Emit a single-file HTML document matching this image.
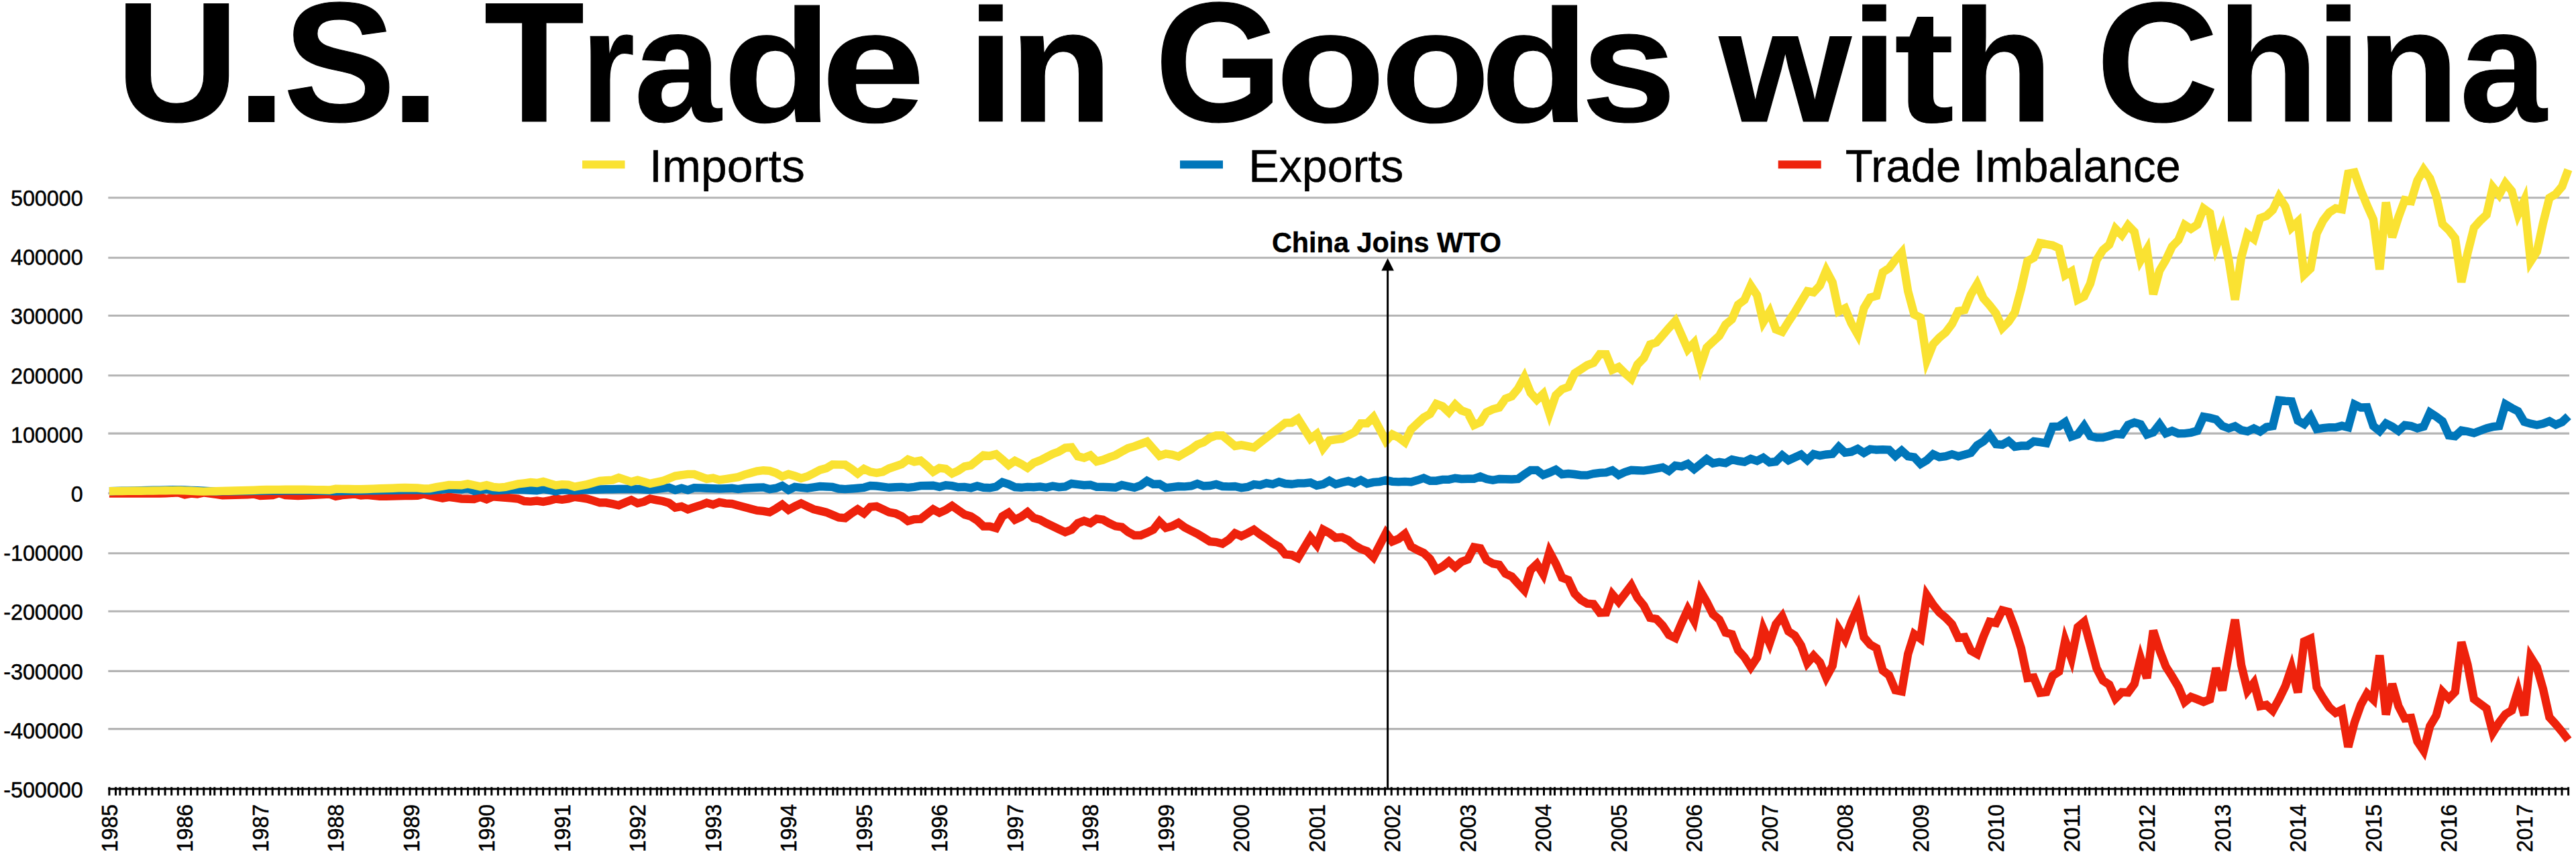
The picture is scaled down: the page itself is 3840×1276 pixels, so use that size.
<!DOCTYPE html>
<html lang="en"><head><meta charset="utf-8"><title>U.S. Trade in Goods with China</title>
<style>html,body{margin:0;padding:0;background:#fff}body{width:3840px;height:1276px;overflow:hidden}svg{display:block}</style>
</head><body>
<svg width="3840" height="1276" viewBox="0 0 3840 1276">
<g stroke="#b4b4b4" stroke-width="3.1">
<line x1="161.3" y1="294.7" x2="3830" y2="294.7"/>
<line x1="161.3" y1="384.2" x2="3830" y2="384.2"/>
<line x1="161.3" y1="470.5" x2="3830" y2="470.5"/>
<line x1="161.3" y1="559.7" x2="3830" y2="559.7"/>
<line x1="161.3" y1="646.1" x2="3830" y2="646.1"/>
<line x1="161.3" y1="735.4" x2="3830" y2="735.4"/>
<line x1="161.3" y1="824.7" x2="3830" y2="824.7"/>
<line x1="161.3" y1="911.2" x2="3830" y2="911.2"/>
<line x1="161.3" y1="1000.4" x2="3830" y2="1000.4"/>
<line x1="161.3" y1="1086.6" x2="3830" y2="1086.6"/>
</g>
<g fill="none" stroke-width="12.4" stroke-linejoin="miter" stroke-miterlimit="4.0" stroke-linecap="butt">
<polyline stroke="#ee220c" points="162.9,735.6 172.3,735.6 181.7,735.6 191.0,735.6 200.4,735.6 209.8,735.6 219.2,735.6 228.5,735.6 237.9,735.6 247.3,735.2 256.6,734.8 266.0,734.4 275.4,737.3 284.8,735.6 294.1,736.5 303.5,734.4 312.9,735.6 322.3,736.9 331.6,738.2 341.0,738.0 350.4,737.8 359.8,737.5 369.1,737.3 378.5,736.5 387.9,739.1 397.3,738.6 406.6,738.2 416.0,735.1 425.4,738.2 434.8,738.6 444.1,739.1 453.5,738.5 462.9,738.0 472.3,737.5 481.6,737.0 491.0,736.5 500.4,739.9 509.8,738.2 519.1,737.3 528.5,736.5 537.9,738.5 547.3,737.8 556.6,738.9 566.0,739.9 575.4,739.7 584.8,739.5 594.1,739.3 603.5,739.1 612.9,739.0 622.3,738.8 631.6,736.5 641.0,738.6 650.4,740.6 659.8,742.7 669.1,740.9 678.5,742.2 687.9,743.5 697.3,743.8 706.6,744.1 716.0,740.9 725.4,744.4 734.8,740.4 744.1,741.1 753.5,741.8 762.9,742.7 772.3,743.5 781.6,747.0 791.0,747.6 800.4,746.5 809.8,747.9 819.1,746.2 828.5,743.5 837.9,744.8 847.3,743.5 856.6,740.9 866.0,742.2 875.4,743.5 884.8,746.4 894.1,749.3 903.5,749.3 912.9,751.2 922.3,753.2 931.6,749.2 941.0,745.3 950.4,750.2 959.8,747.9 969.1,743.5 978.5,745.3 987.9,747.0 997.3,749.7 1006.6,756.7 1016.0,754.9 1025.4,759.3 1034.8,756.2 1044.2,753.2 1053.5,749.6 1062.9,752.2 1072.3,748.7 1081.7,750.4 1091.0,751.0 1100.4,753.5 1109.8,755.9 1119.2,758.4 1128.5,760.9 1137.9,761.8 1147.3,763.6 1156.7,758.3 1166.0,752.2 1175.4,760.1 1184.8,754.8 1194.2,750.4 1203.5,754.8 1212.9,759.2 1222.3,761.4 1231.7,763.6 1241.0,767.5 1250.4,771.5 1259.8,772.3 1269.2,765.3 1278.5,759.2 1287.9,765.3 1297.3,755.7 1306.7,754.8 1316.0,759.2 1325.4,763.6 1334.8,765.3 1344.2,769.7 1353.5,776.7 1362.9,774.1 1372.3,773.6 1381.7,766.4 1391.0,759.2 1400.4,764.4 1409.8,760.1 1419.2,753.9 1428.5,760.5 1437.9,767.1 1447.3,769.7 1456.7,775.8 1466.0,784.6 1475.4,784.6 1484.8,787.2 1494.2,769.7 1503.5,764.2 1512.9,774.7 1522.3,770.3 1531.7,763.4 1541.0,772.1 1550.4,774.7 1559.8,779.9 1569.2,784.4 1578.5,788.9 1587.9,793.3 1597.3,789.6 1606.7,779.9 1616.0,776.4 1625.4,779.9 1634.8,773.3 1644.2,774.7 1653.5,779.9 1662.9,784.3 1672.3,785.7 1681.7,793.1 1691.0,798.0 1700.4,798.0 1709.8,794.0 1719.2,789.6 1728.5,777.6 1737.9,786.9 1747.3,784.3 1756.7,779.3 1766.0,786.1 1775.4,790.9 1784.8,795.7 1794.2,801.4 1803.5,807.1 1812.9,808.0 1822.3,810.5 1831.7,804.5 1841.0,794.9 1850.4,799.2 1859.8,794.8 1869.2,789.6 1878.5,796.6 1887.9,802.7 1897.3,809.7 1906.7,815.0 1916.0,826.4 1925.4,827.2 1934.8,831.9 1944.2,816.4 1953.5,800.9 1962.9,812.3 1972.3,789.5 1981.7,794.5 1991.0,801.5 2000.4,800.7 2009.8,805.0 2019.2,812.9 2028.5,818.2 2037.9,821.7 2047.3,830.7 2056.7,812.7 2066.0,794.7 2075.4,807.1 2084.8,803.3 2094.2,795.8 2103.5,814.7 2112.9,819.9 2122.3,824.3 2131.7,833.1 2141.0,849.4 2150.4,844.5 2159.8,836.9 2169.2,845.5 2178.5,837.5 2187.9,834.0 2197.3,815.6 2206.7,817.3 2216.0,834.8 2225.4,840.1 2234.8,841.8 2244.2,855.0 2253.5,859.4 2262.9,869.9 2272.3,879.8 2281.7,849.7 2291.0,840.8 2300.4,856.2 2309.8,822.5 2319.2,840.1 2328.5,861.1 2337.9,864.6 2347.3,884.8 2356.7,894.4 2366.0,899.7 2375.4,900.5 2384.8,913.3 2394.2,912.9 2403.5,886.0 2412.9,897.1 2422.3,885.0 2431.7,872.6 2441.0,891.2 2450.4,902.6 2459.8,921.0 2469.2,922.7 2478.5,932.4 2487.9,946.4 2497.3,951.0 2506.7,928.9 2516.0,908.4 2525.4,925.3 2534.8,880.9 2544.2,897.3 2553.5,915.7 2562.9,923.6 2572.3,942.9 2581.7,945.5 2591.0,969.2 2600.4,979.7 2609.8,994.4 2619.2,980.2 2628.5,937.4 2637.9,958.9 2647.3,930.6 2656.7,918.6 2666.0,941.1 2675.4,947.2 2684.8,962.1 2694.2,988.4 2703.5,977.4 2712.9,987.4 2722.3,1009.8 2731.7,992.5 2741.0,937.5 2750.4,952.8 2759.8,927.1 2769.2,905.9 2778.5,949.9 2787.9,960.9 2797.3,966.2 2806.7,999.5 2816.0,1006.5 2825.4,1028.9 2834.8,1030.7 2844.2,974.9 2853.5,945.3 2862.9,952.0 2872.3,887.2 2881.7,901.5 2891.0,912.9 2900.4,920.8 2909.8,930.5 2919.2,950.6 2928.5,949.7 2937.9,969.9 2947.3,975.0 2956.7,948.9 2966.0,926.9 2975.4,928.7 2984.8,909.7 2994.2,912.1 3003.5,936.6 3012.9,966.4 3022.3,1010.7 3031.7,1009.8 3041.0,1032.8 3050.4,1031.6 3059.8,1007.4 3069.2,1001.2 3078.5,954.7 3087.9,981.5 3097.3,934.8 3106.7,926.9 3116.0,961.1 3125.4,996.2 3134.8,1014.4 3144.2,1020.5 3153.5,1041.3 3162.9,1031.9 3172.3,1032.3 3181.7,1019.6 3191.0,981.4 3200.4,1010.9 3209.8,940.0 3219.2,969.2 3228.5,993.5 3237.9,1008.3 3247.3,1024.0 3256.7,1046.5 3266.0,1038.9 3275.4,1042.4 3284.8,1046.2 3294.2,1042.4 3303.5,996.0 3312.9,1029.1 3322.3,975.5 3331.7,923.7 3341.0,991.2 3350.4,1029.7 3359.8,1017.8 3369.2,1052.6 3378.5,1050.8 3387.9,1059.3 3397.3,1042.1 3406.7,1022.8 3416.0,995.3 3425.4,1032.3 3434.8,956.2 3444.2,952.0 3453.5,1024.5 3462.9,1040.3 3472.3,1054.3 3481.7,1062.7 3491.0,1058.2 3500.4,1113.5 3509.8,1077.1 3519.2,1050.8 3528.5,1033.8 3537.9,1042.8 3547.3,976.9 3556.7,1065.3 3566.0,1019.5 3575.4,1052.6 3584.8,1071.0 3594.2,1070.1 3603.5,1105.1 3612.9,1119.1 3622.3,1082.4 3631.7,1066.6 3641.0,1031.3 3650.4,1041.1 3659.8,1031.5 3669.2,957.2 3678.5,991.2 3687.9,1042.1 3697.3,1049.1 3706.7,1056.1 3716.0,1092.2 3725.4,1077.1 3734.8,1064.8 3744.2,1059.1 3753.5,1029.4 3762.9,1066.4 3772.3,979.5 3781.7,994.6 3791.0,1027.3 3800.4,1069.3 3809.8,1079.6 3819.2,1090.8 3828.5,1103.0"/>
<polyline stroke="#0076ba" points="162.9,732.2 172.3,732.0 181.7,731.8 191.0,731.6 200.4,731.4 209.8,731.2 219.2,731.0 228.5,730.8 237.9,730.6 247.3,730.5 256.6,730.3 266.0,730.1 275.4,730.5 284.8,730.9 294.1,731.3 303.5,731.7 312.9,732.1 322.3,732.5 331.6,732.4 341.0,732.3 350.4,732.2 359.8,732.1 369.1,732.0 378.5,731.9 387.9,731.8 397.3,731.6 406.6,731.6 416.0,731.5 425.4,731.4 434.8,731.4 444.1,731.3 453.5,731.4 462.9,731.6 472.3,731.7 481.6,731.9 491.0,732.0 500.4,732.2 509.8,732.0 519.1,731.8 528.5,731.7 537.9,731.5 547.3,731.4 556.6,731.2 566.0,731.0 575.4,730.9 584.8,730.7 594.1,730.5 603.5,730.4 612.9,730.2 622.3,730.0 631.6,730.6 641.0,731.3 650.4,730.4 659.8,729.5 669.1,728.6 678.5,729.1 687.9,729.5 697.3,727.8 706.6,731.8 716.0,730.4 725.4,729.0 734.8,731.3 744.1,730.8 753.5,730.4 762.9,729.9 772.3,729.5 781.6,730.1 791.0,730.7 800.4,731.3 809.8,729.0 819.1,730.7 828.5,732.5 837.9,730.0 847.3,730.6 856.6,731.3 866.0,730.6 875.4,730.0 884.8,729.8 894.1,729.5 903.5,729.3 912.9,729.2 922.3,729.0 931.6,729.0 941.0,729.0 950.4,729.0 959.8,729.5 969.1,730.0 978.5,729.0 987.9,727.9 997.3,726.9 1006.6,730.4 1016.0,727.8 1025.4,730.4 1034.8,727.2 1044.2,727.4 1053.5,727.7 1062.9,728.1 1072.3,728.5 1081.7,728.1 1091.0,727.7 1100.4,729.1 1109.8,727.7 1119.2,727.2 1128.5,726.8 1137.9,726.4 1147.3,729.1 1156.7,727.7 1166.0,724.1 1175.4,730.3 1184.8,725.9 1194.2,726.8 1203.5,727.7 1212.9,726.4 1222.3,725.0 1231.7,725.5 1241.0,725.9 1250.4,728.5 1259.8,729.1 1269.2,728.5 1278.5,727.7 1287.9,726.8 1297.3,724.1 1306.7,724.5 1316.0,725.6 1325.4,726.8 1334.8,726.3 1344.2,725.9 1353.5,726.8 1362.9,725.9 1372.3,724.1 1381.7,724.0 1391.0,723.8 1400.4,725.9 1409.8,723.3 1419.2,724.1 1428.5,726.2 1437.9,725.9 1447.3,727.3 1456.7,724.5 1466.0,726.8 1475.4,727.3 1484.8,725.5 1494.2,718.9 1503.5,721.8 1512.9,726.2 1522.3,726.8 1531.7,725.9 1541.0,726.2 1550.4,725.4 1559.8,726.8 1569.2,724.5 1578.5,726.2 1587.9,725.4 1597.3,721.0 1606.7,722.2 1616.0,723.2 1625.4,722.7 1634.8,725.9 1644.2,725.9 1653.5,726.3 1662.9,726.8 1672.3,723.0 1681.7,725.0 1691.0,726.8 1700.4,723.6 1709.8,716.8 1719.2,721.8 1728.5,721.5 1737.9,727.1 1747.3,726.1 1756.7,725.0 1766.0,725.4 1775.4,724.5 1784.8,721.0 1794.2,724.5 1803.5,724.0 1812.9,722.0 1822.3,725.0 1831.7,725.4 1841.0,725.0 1850.4,727.1 1859.8,725.9 1869.2,722.2 1878.5,723.2 1887.9,720.1 1897.3,721.8 1906.7,718.3 1916.0,721.0 1925.4,721.8 1934.8,720.4 1944.2,720.4 1953.5,719.3 1962.9,723.7 1972.3,721.9 1981.7,716.7 1991.0,721.9 2000.4,719.3 2009.8,717.0 2019.2,720.2 2028.5,715.7 2037.9,721.0 2047.3,718.9 2056.7,718.1 2066.0,715.8 2075.4,717.9 2084.8,718.4 2094.2,717.9 2103.5,718.4 2112.9,715.8 2122.3,712.7 2131.7,716.7 2141.0,716.7 2150.4,714.9 2159.8,714.9 2169.2,712.8 2178.5,714.0 2187.9,713.8 2197.3,713.7 2206.7,710.4 2216.0,714.0 2225.4,715.8 2234.8,714.0 2244.2,714.3 2253.5,714.5 2262.9,714.0 2272.3,707.0 2281.7,700.9 2291.0,700.9 2300.4,707.9 2309.8,704.4 2319.2,700.1 2328.5,707.0 2337.9,706.1 2347.3,707.0 2356.7,708.4 2366.0,708.4 2375.4,706.1 2384.8,704.9 2394.2,704.4 2403.5,701.1 2412.9,708.0 2422.3,703.7 2431.7,700.8 2441.0,701.2 2450.4,701.6 2459.8,700.2 2469.2,698.5 2478.5,696.7 2487.9,702.0 2497.3,694.1 2506.7,695.3 2516.0,691.5 2525.4,699.3 2534.8,691.8 2544.2,684.3 2553.5,690.6 2562.9,688.9 2572.3,690.3 2581.7,685.0 2591.0,687.1 2600.4,688.5 2609.8,683.9 2619.2,687.1 2628.5,682.2 2637.9,689.2 2647.3,688.0 2656.7,678.7 2666.0,686.2 2675.4,681.8 2684.8,677.5 2694.2,686.0 2703.5,676.9 2712.9,679.2 2722.3,677.5 2731.7,676.6 2741.0,666.1 2750.4,674.8 2759.8,673.4 2769.2,669.1 2778.5,675.2 2787.9,669.6 2797.3,670.5 2806.7,670.1 2816.0,670.5 2825.4,679.8 2834.8,671.7 2844.2,680.1 2853.5,681.6 2862.9,691.7 2872.3,686.0 2881.7,677.1 2891.0,681.3 2900.4,680.2 2909.8,677.2 2919.2,680.2 2928.5,677.8 2937.9,675.1 2947.3,663.8 2956.7,658.0 2966.0,648.4 2975.4,662.0 2984.8,662.9 2994.2,657.6 3003.5,665.9 3012.9,664.5 3022.3,664.5 3031.7,658.0 3041.0,659.2 3050.4,660.6 3059.8,636.1 3069.2,635.7 3078.5,629.3 3087.9,650.7 3097.3,647.5 3106.7,634.9 3116.0,650.1 3125.4,652.2 3134.8,652.4 3144.2,649.7 3153.5,646.9 3162.9,647.5 3172.3,633.4 3181.7,629.9 3191.0,632.6 3200.4,647.8 3209.8,644.5 3219.2,632.5 3228.5,646.0 3237.9,642.2 3247.3,646.2 3256.7,646.1 3266.0,644.8 3275.4,642.2 3284.8,621.2 3294.2,622.9 3303.5,625.3 3312.9,635.0 3322.3,638.5 3331.7,635.3 3341.0,641.1 3350.4,643.0 3359.8,638.6 3369.2,643.2 3378.5,636.7 3387.9,635.0 3397.3,596.7 3406.7,597.7 3416.0,598.3 3425.4,627.1 3434.8,632.3 3444.2,620.9 3453.5,639.6 3462.9,638.1 3472.3,637.1 3481.7,637.3 3491.0,634.7 3500.4,637.1 3509.8,602.8 3519.2,607.5 3528.5,607.2 3537.9,635.0 3547.3,642.6 3556.7,631.3 3566.0,635.9 3575.4,642.4 3584.8,633.8 3594.2,635.0 3603.5,638.5 3612.9,635.9 3622.3,614.9 3631.7,621.0 3641.0,628.0 3650.4,649.0 3659.8,650.3 3669.2,641.6 3678.5,643.2 3687.9,645.5 3697.3,642.0 3706.7,638.5 3716.0,636.2 3725.4,635.0 3734.8,602.7 3744.2,608.2 3753.5,612.9 3762.9,628.8 3772.3,631.6 3781.7,633.5 3791.0,631.6 3800.4,627.9 3809.8,633.1 3819.2,629.3 3828.5,620.4"/>
<polyline stroke="#fae232" points="162.9,732.3 172.3,732.1 181.7,732.0 191.0,731.9 200.4,731.8 209.8,731.7 219.2,731.6 228.5,731.5 237.9,731.4 247.3,731.3 256.6,731.1 266.0,731.0 275.4,731.4 284.8,731.8 294.1,732.2 303.5,732.6 312.9,732.4 322.3,732.2 331.6,731.9 341.0,731.7 350.4,731.5 359.8,731.3 369.1,731.0 378.5,730.7 387.9,730.3 397.3,730.0 406.6,729.9 416.0,729.9 425.4,729.8 434.8,729.8 444.1,729.7 453.5,729.6 462.9,729.9 472.3,730.1 481.6,730.3 491.0,730.5 500.4,728.8 509.8,728.9 519.1,729.0 528.5,729.2 537.9,729.3 547.3,729.0 556.6,728.6 566.0,728.3 575.4,728.0 584.8,727.7 594.1,727.3 603.5,727.0 612.9,727.2 622.3,727.4 631.6,728.4 641.0,728.1 650.4,726.1 659.8,724.6 669.1,723.0 678.5,723.1 687.9,723.2 697.3,721.4 706.6,723.3 716.0,725.3 725.4,723.2 734.8,725.8 744.1,726.7 753.5,725.8 762.9,723.6 772.3,721.4 781.6,720.3 791.0,719.1 800.4,720.0 809.8,717.9 819.1,720.7 828.5,723.5 837.9,722.1 847.3,722.6 856.6,725.6 866.0,723.9 875.4,722.1 884.8,719.5 894.1,716.9 903.5,716.2 912.9,715.6 922.3,712.1 931.6,715.2 941.0,718.3 950.4,715.6 959.8,718.3 969.1,720.9 978.5,718.9 987.9,716.9 997.3,713.2 1006.6,709.5 1016.0,708.2 1025.4,706.9 1034.8,706.9 1044.2,710.3 1053.5,713.8 1062.9,712.5 1072.3,715.5 1081.7,714.1 1091.0,712.6 1100.4,711.1 1109.8,707.6 1119.2,705.0 1128.5,702.4 1137.9,701.2 1147.3,701.9 1156.7,705.0 1166.0,710.3 1175.4,706.8 1184.8,709.4 1194.2,712.9 1203.5,710.3 1212.9,705.4 1222.3,700.6 1231.7,698.0 1241.0,692.4 1250.4,692.6 1259.8,692.7 1269.2,698.9 1278.5,705.9 1287.9,698.9 1297.3,703.3 1306.7,705.0 1316.0,703.3 1325.4,698.3 1334.8,695.1 1344.2,691.9 1353.5,684.9 1362.9,688.4 1372.3,686.6 1381.7,694.5 1391.0,703.3 1400.4,697.6 1409.8,698.9 1419.2,705.9 1428.5,701.5 1437.9,695.4 1447.3,693.6 1456.7,686.2 1466.0,678.7 1475.4,679.6 1484.8,677.0 1494.2,684.9 1503.5,693.4 1512.9,686.9 1522.3,691.6 1531.7,697.5 1541.0,689.9 1550.4,686.4 1559.8,681.6 1569.2,676.7 1578.5,673.2 1587.9,667.6 1597.3,666.8 1606.7,680.3 1616.0,682.5 1625.4,678.7 1634.8,687.8 1644.2,685.5 1653.5,681.7 1662.9,678.5 1672.3,673.2 1681.7,668.0 1691.0,665.4 1700.4,661.9 1709.8,658.4 1719.2,669.0 1728.5,679.6 1737.9,676.4 1747.3,677.8 1756.7,680.6 1766.0,675.2 1775.4,669.7 1784.8,662.7 1794.2,659.2 1803.5,652.6 1812.9,649.2 1822.3,649.2 1831.7,657.1 1841.0,664.9 1850.4,663.3 1859.8,665.1 1869.2,667.0 1878.5,659.6 1887.9,652.3 1897.3,645.0 1906.7,637.6 1916.0,630.3 1925.4,630.0 1934.8,624.2 1944.2,639.1 1953.5,653.9 1962.9,646.9 1972.3,668.3 1981.7,656.5 1991.0,655.2 2000.4,653.9 2009.8,649.1 2019.2,644.3 2028.5,631.1 2037.9,631.1 2047.3,621.8 2056.7,639.6 2066.0,657.4 2075.4,647.5 2084.8,652.1 2094.2,659.3 2103.5,639.9 2112.9,631.1 2122.3,622.4 2131.7,617.1 2141.0,602.2 2150.4,605.7 2159.8,614.6 2169.2,603.1 2178.5,611.8 2187.9,615.3 2197.3,633.6 2206.7,629.4 2216.0,614.5 2225.4,610.1 2234.8,607.5 2244.2,594.3 2253.5,590.8 2262.9,579.4 2272.3,562.3 2281.7,585.6 2291.0,596.0 2300.4,587.2 2309.8,616.4 2319.2,589.1 2328.5,580.3 2337.9,576.8 2347.3,556.6 2356.7,550.5 2366.0,544.4 2375.4,540.9 2384.8,527.9 2394.2,528.1 2403.5,551.2 2412.9,547.1 2422.3,556.4 2431.7,564.6 2441.0,543.3 2450.4,533.7 2459.8,513.5 2469.2,510.5 2478.5,499.7 2487.9,488.8 2497.3,478.5 2506.7,499.6 2516.0,520.7 2525.4,511.0 2534.8,546.2 2544.2,518.1 2553.5,509.3 2562.9,500.5 2572.3,483.9 2581.7,476.0 2591.0,454.1 2600.4,447.1 2609.8,425.8 2619.2,440.1 2628.5,480.1 2637.9,464.8 2647.3,490.9 2656.7,494.6 2666.0,479.5 2675.4,465.5 2684.8,449.7 2694.2,434.0 2703.5,435.7 2712.9,425.7 2722.3,403.0 2731.7,420.8 2741.0,464.2 2750.4,459.5 2759.8,482.1 2769.2,498.5 2778.5,459.4 2787.9,443.6 2797.3,441.0 2806.7,405.9 2816.0,399.8 2825.4,387.5 2834.8,376.6 2844.2,434.0 2853.5,468.7 2862.9,473.5 2872.3,536.6 2881.7,513.1 2891.0,503.3 2900.4,495.4 2909.8,483.1 2919.2,463.8 2928.5,462.1 2937.9,439.3 2947.3,423.5 2956.7,444.6 2966.0,455.1 2975.4,467.3 2984.8,488.9 2994.2,479.6 3003.5,465.6 3012.9,430.5 3022.3,389.4 3031.7,384.1 3041.0,362.2 3050.4,364.0 3059.8,365.7 3069.2,370.1 3078.5,410.2 3087.9,404.5 3097.3,446.8 3106.7,441.9 3116.0,422.7 3125.4,387.6 3134.8,372.7 3144.2,364.8 3153.5,341.0 3162.9,350.5 3172.3,335.9 3181.7,345.6 3191.0,388.2 3200.4,372.1 3209.8,438.6 3219.2,403.4 3228.5,387.6 3237.9,367.5 3247.3,357.8 3256.7,335.2 3266.0,341.2 3275.4,335.0 3284.8,310.7 3294.2,317.5 3303.5,367.3 3312.9,342.8 3322.3,387.4 3331.7,446.9 3341.0,383.9 3350.4,349.0 3359.8,356.2 3369.2,325.3 3378.5,321.8 3387.9,313.1 3397.3,293.4 3406.7,307.8 3416.0,339.3 3425.4,330.4 3434.8,409.4 3444.2,400.5 3453.5,348.1 3462.9,328.9 3472.3,316.6 3481.7,310.5 3491.0,312.1 3500.4,258.8 3509.8,257.0 3519.2,283.3 3528.5,306.1 3537.9,327.1 3547.3,401.6 3556.7,301.7 3566.0,353.7 3575.4,323.6 3584.8,298.2 3594.2,299.9 3603.5,269.3 3612.9,252.7 3622.3,265.8 3631.7,292.1 3641.0,334.1 3650.4,342.9 3659.8,355.1 3669.2,420.5 3678.5,376.9 3687.9,339.4 3697.3,328.9 3706.7,320.1 3716.0,279.1 3725.4,290.6 3734.8,273.1 3744.2,284.6 3753.5,319.5 3762.9,298.7 3772.3,389.8 3781.7,375.2 3791.0,332.2 3800.4,294.9 3809.8,289.3 3819.2,278.0 3828.5,252.8"/>
</g>
<g stroke="#000" stroke-width="3">
<line x1="161.3" y1="1176.0" x2="3830" y2="1176.0"/>
<path d="M162.9 1173.2V1185.7M172.5 1173.2V1185.7M178.9 1173.2V1185.7M188.5 1173.2V1185.7M198.1 1173.2V1185.7M207.7 1173.2V1185.7M217.3 1173.2V1185.7M226.9 1173.2V1185.7M236.5 1173.2V1185.7M246.1 1173.2V1185.7M255.7 1173.2V1185.7M265.3 1173.2V1185.7M274.9 1173.2V1185.7M284.6 1173.2V1185.7M294.2 1173.2V1185.7M303.8 1173.2V1185.7M313.4 1173.2V1185.7M319.8 1173.2V1185.7M329.4 1173.2V1185.7M339.0 1173.2V1185.7M348.6 1173.2V1185.7M358.2 1173.2V1185.7M367.8 1173.2V1185.7M377.4 1173.2V1185.7M387.0 1173.2V1185.7M396.6 1173.2V1185.7M406.2 1173.2V1185.7M415.8 1173.2V1185.7M425.4 1173.2V1185.7M435.0 1173.2V1185.7M444.6 1173.2V1185.7M451.0 1173.2V1185.7M460.6 1173.2V1185.7M470.2 1173.2V1185.7M479.8 1173.2V1185.7M489.4 1173.2V1185.7M499.1 1173.2V1185.7M508.7 1173.2V1185.7M518.3 1173.2V1185.7M527.9 1173.2V1185.7M537.5 1173.2V1185.7M547.1 1173.2V1185.7M556.7 1173.2V1185.7M566.3 1173.2V1185.7M575.9 1173.2V1185.7M582.3 1173.2V1185.7M591.9 1173.2V1185.7M601.5 1173.2V1185.7M611.1 1173.2V1185.7M620.7 1173.2V1185.7M630.3 1173.2V1185.7M639.9 1173.2V1185.7M649.5 1173.2V1185.7M659.1 1173.2V1185.7M668.7 1173.2V1185.7M678.3 1173.2V1185.7M687.9 1173.2V1185.7M697.5 1173.2V1185.7M707.2 1173.2V1185.7M713.6 1173.2V1185.7M723.2 1173.2V1185.7M732.8 1173.2V1185.7M742.4 1173.2V1185.7M752.0 1173.2V1185.7M761.6 1173.2V1185.7M771.2 1173.2V1185.7M780.8 1173.2V1185.7M790.4 1173.2V1185.7M800.0 1173.2V1185.7M809.6 1173.2V1185.7M819.2 1173.2V1185.7M828.8 1173.2V1185.7M838.4 1173.2V1185.7M844.8 1173.2V1185.7M854.4 1173.2V1185.7M864.0 1173.2V1185.7M873.6 1173.2V1185.7M883.2 1173.2V1185.7M892.8 1173.2V1185.7M902.4 1173.2V1185.7M912.0 1173.2V1185.7M921.7 1173.2V1185.7M931.3 1173.2V1185.7M940.9 1173.2V1185.7M950.5 1173.2V1185.7M960.1 1173.2V1185.7M969.7 1173.2V1185.7M979.3 1173.2V1185.7M985.7 1173.2V1185.7M995.3 1173.2V1185.7M1004.9 1173.2V1185.7M1014.5 1173.2V1185.7M1024.1 1173.2V1185.7M1033.7 1173.2V1185.7M1043.3 1173.2V1185.7M1052.9 1173.2V1185.7M1062.5 1173.2V1185.7M1072.1 1173.2V1185.7M1081.7 1173.2V1185.7M1091.3 1173.2V1185.7M1100.9 1173.2V1185.7M1110.5 1173.2V1185.7M1116.9 1173.2V1185.7M1126.5 1173.2V1185.7M1136.2 1173.2V1185.7M1145.8 1173.2V1185.7M1155.4 1173.2V1185.7M1165.0 1173.2V1185.7M1174.6 1173.2V1185.7M1184.2 1173.2V1185.7M1193.8 1173.2V1185.7M1203.4 1173.2V1185.7M1213.0 1173.2V1185.7M1222.6 1173.2V1185.7M1232.2 1173.2V1185.7M1241.8 1173.2V1185.7M1248.2 1173.2V1185.7M1257.8 1173.2V1185.7M1267.4 1173.2V1185.7M1277.0 1173.2V1185.7M1286.6 1173.2V1185.7M1296.2 1173.2V1185.7M1305.8 1173.2V1185.7M1315.4 1173.2V1185.7M1325.0 1173.2V1185.7M1334.6 1173.2V1185.7M1344.2 1173.2V1185.7M1353.9 1173.2V1185.7M1363.5 1173.2V1185.7M1373.1 1173.2V1185.7M1379.5 1173.2V1185.7M1389.1 1173.2V1185.7M1398.7 1173.2V1185.7M1408.3 1173.2V1185.7M1417.9 1173.2V1185.7M1427.5 1173.2V1185.7M1437.1 1173.2V1185.7M1446.7 1173.2V1185.7M1456.3 1173.2V1185.7M1465.9 1173.2V1185.7M1475.5 1173.2V1185.7M1485.1 1173.2V1185.7M1494.7 1173.2V1185.7M1504.3 1173.2V1185.7M1513.9 1173.2V1185.7M1520.3 1173.2V1185.7M1529.9 1173.2V1185.7M1539.5 1173.2V1185.7M1549.1 1173.2V1185.7M1558.8 1173.2V1185.7M1568.4 1173.2V1185.7M1578.0 1173.2V1185.7M1587.6 1173.2V1185.7M1597.2 1173.2V1185.7M1606.8 1173.2V1185.7M1616.4 1173.2V1185.7M1626.0 1173.2V1185.7M1635.6 1173.2V1185.7M1645.2 1173.2V1185.7M1651.6 1173.2V1185.7M1661.2 1173.2V1185.7M1670.8 1173.2V1185.7M1680.4 1173.2V1185.7M1690.0 1173.2V1185.7M1699.6 1173.2V1185.7M1709.2 1173.2V1185.7M1718.8 1173.2V1185.7M1728.4 1173.2V1185.7M1738.0 1173.2V1185.7M1747.6 1173.2V1185.7M1757.2 1173.2V1185.7M1766.8 1173.2V1185.7M1776.5 1173.2V1185.7M1782.9 1173.2V1185.7M1792.5 1173.2V1185.7M1802.1 1173.2V1185.7M1811.7 1173.2V1185.7M1821.3 1173.2V1185.7M1830.9 1173.2V1185.7M1840.5 1173.2V1185.7M1850.1 1173.2V1185.7M1859.7 1173.2V1185.7M1869.3 1173.2V1185.7M1878.9 1173.2V1185.7M1888.5 1173.2V1185.7M1898.1 1173.2V1185.7M1907.7 1173.2V1185.7M1914.1 1173.2V1185.7M1923.7 1173.2V1185.7M1933.3 1173.2V1185.7M1942.9 1173.2V1185.7M1952.5 1173.2V1185.7M1962.1 1173.2V1185.7M1971.7 1173.2V1185.7M1981.3 1173.2V1185.7M1991.0 1173.2V1185.7M2000.6 1173.2V1185.7M2010.2 1173.2V1185.7M2019.8 1173.2V1185.7M2029.4 1173.2V1185.7M2039.0 1173.2V1185.7M2045.4 1173.2V1185.7M2055.0 1173.2V1185.7M2064.6 1173.2V1185.7M2074.2 1173.2V1185.7M2083.8 1173.2V1185.7M2093.4 1173.2V1185.7M2103.0 1173.2V1185.7M2112.6 1173.2V1185.7M2122.2 1173.2V1185.7M2131.8 1173.2V1185.7M2141.4 1173.2V1185.7M2151.0 1173.2V1185.7M2160.6 1173.2V1185.7M2170.2 1173.2V1185.7M2179.8 1173.2V1185.7M2186.2 1173.2V1185.7M2195.8 1173.2V1185.7M2205.5 1173.2V1185.7M2215.1 1173.2V1185.7M2224.7 1173.2V1185.7M2234.3 1173.2V1185.7M2243.9 1173.2V1185.7M2253.5 1173.2V1185.7M2263.1 1173.2V1185.7M2272.7 1173.2V1185.7M2282.3 1173.2V1185.7M2291.9 1173.2V1185.7M2301.5 1173.2V1185.7M2311.1 1173.2V1185.7M2317.5 1173.2V1185.7M2327.1 1173.2V1185.7M2336.7 1173.2V1185.7M2346.3 1173.2V1185.7M2355.9 1173.2V1185.7M2365.5 1173.2V1185.7M2375.1 1173.2V1185.7M2384.7 1173.2V1185.7M2394.3 1173.2V1185.7M2403.9 1173.2V1185.7M2413.6 1173.2V1185.7M2423.2 1173.2V1185.7M2432.8 1173.2V1185.7M2442.4 1173.2V1185.7M2448.8 1173.2V1185.7M2458.4 1173.2V1185.7M2468.0 1173.2V1185.7M2477.6 1173.2V1185.7M2487.2 1173.2V1185.7M2496.8 1173.2V1185.7M2506.4 1173.2V1185.7M2516.0 1173.2V1185.7M2525.6 1173.2V1185.7M2535.2 1173.2V1185.7M2544.8 1173.2V1185.7M2554.4 1173.2V1185.7M2564.0 1173.2V1185.7M2573.6 1173.2V1185.7M2580.0 1173.2V1185.7M2589.6 1173.2V1185.7M2599.2 1173.2V1185.7M2608.8 1173.2V1185.7M2618.4 1173.2V1185.7M2628.1 1173.2V1185.7M2637.7 1173.2V1185.7M2647.3 1173.2V1185.7M2656.9 1173.2V1185.7M2666.5 1173.2V1185.7M2676.1 1173.2V1185.7M2685.7 1173.2V1185.7M2695.3 1173.2V1185.7M2704.9 1173.2V1185.7M2714.5 1173.2V1185.7M2720.9 1173.2V1185.7M2730.5 1173.2V1185.7M2740.1 1173.2V1185.7M2749.7 1173.2V1185.7M2759.3 1173.2V1185.7M2768.9 1173.2V1185.7M2778.5 1173.2V1185.7M2788.1 1173.2V1185.7M2797.7 1173.2V1185.7M2807.3 1173.2V1185.7M2816.9 1173.2V1185.7M2826.5 1173.2V1185.7M2836.1 1173.2V1185.7M2845.8 1173.2V1185.7M2852.2 1173.2V1185.7M2861.8 1173.2V1185.7M2871.4 1173.2V1185.7M2881.0 1173.2V1185.7M2890.6 1173.2V1185.7M2900.2 1173.2V1185.7M2909.8 1173.2V1185.7M2919.4 1173.2V1185.7M2929.0 1173.2V1185.7M2938.6 1173.2V1185.7M2948.2 1173.2V1185.7M2957.8 1173.2V1185.7M2967.4 1173.2V1185.7M2977.0 1173.2V1185.7M2983.4 1173.2V1185.7M2993.0 1173.2V1185.7M3002.6 1173.2V1185.7M3012.2 1173.2V1185.7M3021.8 1173.2V1185.7M3031.4 1173.2V1185.7M3041.0 1173.2V1185.7M3050.6 1173.2V1185.7M3060.3 1173.2V1185.7M3069.9 1173.2V1185.7M3079.5 1173.2V1185.7M3089.1 1173.2V1185.7M3098.7 1173.2V1185.7M3108.3 1173.2V1185.7M3114.7 1173.2V1185.7M3124.3 1173.2V1185.7M3133.9 1173.2V1185.7M3143.5 1173.2V1185.7M3153.1 1173.2V1185.7M3162.7 1173.2V1185.7M3172.3 1173.2V1185.7M3181.9 1173.2V1185.7M3191.5 1173.2V1185.7M3201.1 1173.2V1185.7M3210.7 1173.2V1185.7M3220.3 1173.2V1185.7M3229.9 1173.2V1185.7M3239.5 1173.2V1185.7M3249.1 1173.2V1185.7M3255.5 1173.2V1185.7M3265.1 1173.2V1185.7M3274.8 1173.2V1185.7M3284.4 1173.2V1185.7M3294.0 1173.2V1185.7M3303.6 1173.2V1185.7M3313.2 1173.2V1185.7M3322.8 1173.2V1185.7M3332.4 1173.2V1185.7M3342.0 1173.2V1185.7M3351.6 1173.2V1185.7M3361.2 1173.2V1185.7M3370.8 1173.2V1185.7M3380.4 1173.2V1185.7M3386.8 1173.2V1185.7M3396.4 1173.2V1185.7M3406.0 1173.2V1185.7M3415.6 1173.2V1185.7M3425.2 1173.2V1185.7M3434.8 1173.2V1185.7M3444.4 1173.2V1185.7M3454.0 1173.2V1185.7M3463.6 1173.2V1185.7M3473.2 1173.2V1185.7M3482.9 1173.2V1185.7M3492.5 1173.2V1185.7M3502.1 1173.2V1185.7M3511.7 1173.2V1185.7M3518.1 1173.2V1185.7M3527.7 1173.2V1185.7M3537.3 1173.2V1185.7M3546.9 1173.2V1185.7M3556.5 1173.2V1185.7M3566.1 1173.2V1185.7M3575.7 1173.2V1185.7M3585.3 1173.2V1185.7M3594.9 1173.2V1185.7M3604.5 1173.2V1185.7M3614.1 1173.2V1185.7M3623.7 1173.2V1185.7M3633.3 1173.2V1185.7M3642.9 1173.2V1185.7M3649.3 1173.2V1185.7M3658.9 1173.2V1185.7M3668.5 1173.2V1185.7M3678.1 1173.2V1185.7M3687.7 1173.2V1185.7M3697.4 1173.2V1185.7M3707.0 1173.2V1185.7M3716.6 1173.2V1185.7M3726.2 1173.2V1185.7M3735.8 1173.2V1185.7M3745.4 1173.2V1185.7M3755.0 1173.2V1185.7M3764.6 1173.2V1185.7M3774.2 1173.2V1185.7M3780.6 1173.2V1185.7M3790.2 1173.2V1185.7M3799.8 1173.2V1185.7M3809.4 1173.2V1185.7M3819.0 1173.2V1185.7M3828.6 1173.2V1185.7" fill="none"/>
</g>
<line x1="2068.6" y1="400" x2="2068.6" y2="1176.0" stroke="#000" stroke-width="3"/>
<polygon points="2068.6,385 2059.3,403.5 2077.9,403.5" fill="#000"/>
<rect x="868" y="239.3" width="63.5" height="12" fill="#fae232"/>
<rect x="1759" y="239.3" width="64" height="12" fill="#0076ba"/>
<rect x="2650.7" y="239.3" width="64" height="12" fill="#ee220c"/>
<g font-family="'Liberation Sans', Arial, Helvetica, sans-serif" fill="#000">
<text x="172.62 352.72 422.40 582.07 656.42 721.75 866.82 945.56 1078.12 1224.33 1378.95 1442.35 1504.93 1658.51 1721.84 1901.85 2058.35 2207.17 2357.47 2498.35 2562.92 2759.25 2824.12 2908.30 3060.72 3124.90 3304.35 3451.20 3513.03 3666.71" y="181.4" font-size="254" font-weight="bold" stroke="#000" stroke-width="1.2" id="title" xml:space="preserve"><tspan textLength="183.64" lengthAdjust="spacingAndGlyphs">U</tspan><tspan textLength="74.35" lengthAdjust="spacingAndGlyphs">.</tspan><tspan textLength="167.09" lengthAdjust="spacingAndGlyphs">S</tspan><tspan textLength="74.35" lengthAdjust="spacingAndGlyphs">.</tspan> <tspan textLength="149.31" lengthAdjust="spacingAndGlyphs">T</tspan><tspan font-size="239" textLength="79.26" lengthAdjust="spacingAndGlyphs">r</tspan><tspan font-size="239" textLength="129.46" lengthAdjust="spacingAndGlyphs">a</tspan><tspan font-size="239" textLength="161.72" lengthAdjust="spacingAndGlyphs">d</tspan><tspan font-size="239" textLength="154.62" lengthAdjust="spacingAndGlyphs">e</tspan> <tspan font-size="239" textLength="69.57" lengthAdjust="spacingAndGlyphs">i</tspan><tspan font-size="239" textLength="153.58" lengthAdjust="spacingAndGlyphs">n</tspan> <tspan textLength="189.61" lengthAdjust="spacingAndGlyphs">G</tspan><tspan font-size="239" textLength="163.02" lengthAdjust="spacingAndGlyphs">o</tspan><tspan font-size="239" textLength="163.02" lengthAdjust="spacingAndGlyphs">o</tspan><tspan font-size="239" textLength="161.72" lengthAdjust="spacingAndGlyphs">d</tspan><tspan font-size="239" textLength="140.88" lengthAdjust="spacingAndGlyphs">s</tspan> <tspan font-size="239" textLength="196.65" lengthAdjust="spacingAndGlyphs">w</tspan><tspan font-size="239" textLength="69.57" lengthAdjust="spacingAndGlyphs">i</tspan><tspan font-size="239" textLength="88.66" lengthAdjust="spacingAndGlyphs">t</tspan><tspan font-size="239" textLength="152.42" lengthAdjust="spacingAndGlyphs">h</tspan> <tspan textLength="182.23" lengthAdjust="spacingAndGlyphs">C</tspan><tspan font-size="239" textLength="152.42" lengthAdjust="spacingAndGlyphs">h</tspan><tspan font-size="239" textLength="69.57" lengthAdjust="spacingAndGlyphs">i</tspan><tspan font-size="239" textLength="153.58" lengthAdjust="spacingAndGlyphs">n</tspan><tspan font-size="239" textLength="129.46" lengthAdjust="spacingAndGlyphs">a</tspan></text>
<text x="967.65" y="271.0" font-size="69.0" font-weight="normal" stroke="#000" stroke-width="0.5" textLength="232.09" lengthAdjust="spacingAndGlyphs" id="lg1">Imports</text>
<text x="1861.33" y="271.0" font-size="69.0" font-weight="normal" stroke="#000" stroke-width="0.5" textLength="230.92" lengthAdjust="spacingAndGlyphs" id="lg2">Exports</text>
<text x="2750.76" y="271.0" font-size="69.0" font-weight="normal" stroke="#000" stroke-width="0.5" textLength="499.92" lengthAdjust="spacingAndGlyphs" id="lg3">Trade Imbalance</text>
<text x="1895.90" y="376.1" font-size="42.0" font-weight="bold" stroke="#000" stroke-width="0.4" textLength="342.07" lengthAdjust="spacingAndGlyphs" id="wto">China Joins WTO</text>
<text x="15.90" y="307.1" font-size="33" stroke="#000" stroke-width="0.5" textLength="107.92" lengthAdjust="spacingAndGlyphs" class="yl">500000</text>
<text x="15.90" y="395.3" font-size="33" stroke="#000" stroke-width="0.5" textLength="107.92" lengthAdjust="spacingAndGlyphs" class="yl">400000</text>
<text x="15.90" y="483.4" font-size="33" stroke="#000" stroke-width="0.5" textLength="107.92" lengthAdjust="spacingAndGlyphs" class="yl">300000</text>
<text x="15.90" y="571.6" font-size="33" stroke="#000" stroke-width="0.5" textLength="107.92" lengthAdjust="spacingAndGlyphs" class="yl">200000</text>
<text x="15.90" y="659.8" font-size="33" stroke="#000" stroke-width="0.5" textLength="107.92" lengthAdjust="spacingAndGlyphs" class="yl">100000</text>
<text x="105.83" y="748.0" font-size="33" stroke="#000" stroke-width="0.5" textLength="17.99" lengthAdjust="spacingAndGlyphs" class="yl">0</text>
<text x="5.13" y="836.1" font-size="33" stroke="#000" stroke-width="0.5" textLength="118.69" lengthAdjust="spacingAndGlyphs" class="yl">-100000</text>
<text x="5.13" y="924.3" font-size="33" stroke="#000" stroke-width="0.5" textLength="118.69" lengthAdjust="spacingAndGlyphs" class="yl">-200000</text>
<text x="5.13" y="1012.5" font-size="33" stroke="#000" stroke-width="0.5" textLength="118.69" lengthAdjust="spacingAndGlyphs" class="yl">-300000</text>
<text x="5.13" y="1100.6" font-size="33" stroke="#000" stroke-width="0.5" textLength="118.69" lengthAdjust="spacingAndGlyphs" class="yl">-400000</text>
<text x="5.13" y="1188.8" font-size="33" stroke="#000" stroke-width="0.5" textLength="118.69" lengthAdjust="spacingAndGlyphs" class="yl">-500000</text>
<text transform="translate(174.8,1270.2) rotate(-90)" font-size="33" stroke="#000" stroke-width="0.5" textLength="71.36" lengthAdjust="spacingAndGlyphs" class="xl">1985</text>
<text transform="translate(287.3,1270.2) rotate(-90)" font-size="33" stroke="#000" stroke-width="0.5" textLength="71.36" lengthAdjust="spacingAndGlyphs" class="xl">1986</text>
<text transform="translate(399.8,1270.2) rotate(-90)" font-size="33" stroke="#000" stroke-width="0.5" textLength="71.36" lengthAdjust="spacingAndGlyphs" class="xl">1987</text>
<text transform="translate(512.3,1270.2) rotate(-90)" font-size="33" stroke="#000" stroke-width="0.5" textLength="71.36" lengthAdjust="spacingAndGlyphs" class="xl">1988</text>
<text transform="translate(624.8,1270.2) rotate(-90)" font-size="33" stroke="#000" stroke-width="0.5" textLength="71.36" lengthAdjust="spacingAndGlyphs" class="xl">1989</text>
<text transform="translate(737.3,1270.2) rotate(-90)" font-size="33" stroke="#000" stroke-width="0.5" textLength="71.36" lengthAdjust="spacingAndGlyphs" class="xl">1990</text>
<text transform="translate(849.8,1270.2) rotate(-90)" font-size="33" stroke="#000" stroke-width="0.5" textLength="71.36" lengthAdjust="spacingAndGlyphs" class="xl">1991</text>
<text transform="translate(962.3,1270.2) rotate(-90)" font-size="33" stroke="#000" stroke-width="0.5" textLength="71.36" lengthAdjust="spacingAndGlyphs" class="xl">1992</text>
<text transform="translate(1074.8,1270.2) rotate(-90)" font-size="33" stroke="#000" stroke-width="0.5" textLength="71.36" lengthAdjust="spacingAndGlyphs" class="xl">1993</text>
<text transform="translate(1187.3,1270.2) rotate(-90)" font-size="33" stroke="#000" stroke-width="0.5" textLength="71.36" lengthAdjust="spacingAndGlyphs" class="xl">1994</text>
<text transform="translate(1299.8,1270.2) rotate(-90)" font-size="33" stroke="#000" stroke-width="0.5" textLength="71.36" lengthAdjust="spacingAndGlyphs" class="xl">1995</text>
<text transform="translate(1412.3,1270.2) rotate(-90)" font-size="33" stroke="#000" stroke-width="0.5" textLength="71.36" lengthAdjust="spacingAndGlyphs" class="xl">1996</text>
<text transform="translate(1524.8,1270.2) rotate(-90)" font-size="33" stroke="#000" stroke-width="0.5" textLength="71.36" lengthAdjust="spacingAndGlyphs" class="xl">1997</text>
<text transform="translate(1637.3,1270.2) rotate(-90)" font-size="33" stroke="#000" stroke-width="0.5" textLength="71.36" lengthAdjust="spacingAndGlyphs" class="xl">1998</text>
<text transform="translate(1749.8,1270.2) rotate(-90)" font-size="33" stroke="#000" stroke-width="0.5" textLength="71.36" lengthAdjust="spacingAndGlyphs" class="xl">1999</text>
<text transform="translate(1862.3,1270.2) rotate(-90)" font-size="33" stroke="#000" stroke-width="0.5" textLength="71.36" lengthAdjust="spacingAndGlyphs" class="xl">2000</text>
<text transform="translate(1974.8,1270.2) rotate(-90)" font-size="33" stroke="#000" stroke-width="0.5" textLength="71.36" lengthAdjust="spacingAndGlyphs" class="xl">2001</text>
<text transform="translate(2087.3,1270.2) rotate(-90)" font-size="33" stroke="#000" stroke-width="0.5" textLength="71.36" lengthAdjust="spacingAndGlyphs" class="xl">2002</text>
<text transform="translate(2199.8,1270.2) rotate(-90)" font-size="33" stroke="#000" stroke-width="0.5" textLength="71.36" lengthAdjust="spacingAndGlyphs" class="xl">2003</text>
<text transform="translate(2312.3,1270.2) rotate(-90)" font-size="33" stroke="#000" stroke-width="0.5" textLength="71.36" lengthAdjust="spacingAndGlyphs" class="xl">2004</text>
<text transform="translate(2424.8,1270.2) rotate(-90)" font-size="33" stroke="#000" stroke-width="0.5" textLength="71.36" lengthAdjust="spacingAndGlyphs" class="xl">2005</text>
<text transform="translate(2537.3,1270.2) rotate(-90)" font-size="33" stroke="#000" stroke-width="0.5" textLength="71.36" lengthAdjust="spacingAndGlyphs" class="xl">2006</text>
<text transform="translate(2649.8,1270.2) rotate(-90)" font-size="33" stroke="#000" stroke-width="0.5" textLength="71.36" lengthAdjust="spacingAndGlyphs" class="xl">2007</text>
<text transform="translate(2762.3,1270.2) rotate(-90)" font-size="33" stroke="#000" stroke-width="0.5" textLength="71.36" lengthAdjust="spacingAndGlyphs" class="xl">2008</text>
<text transform="translate(2874.8,1270.2) rotate(-90)" font-size="33" stroke="#000" stroke-width="0.5" textLength="71.36" lengthAdjust="spacingAndGlyphs" class="xl">2009</text>
<text transform="translate(2987.3,1270.2) rotate(-90)" font-size="33" stroke="#000" stroke-width="0.5" textLength="71.36" lengthAdjust="spacingAndGlyphs" class="xl">2010</text>
<text transform="translate(3099.8,1270.2) rotate(-90)" font-size="33" stroke="#000" stroke-width="0.5" textLength="71.36" lengthAdjust="spacingAndGlyphs" class="xl">2011</text>
<text transform="translate(3212.3,1270.2) rotate(-90)" font-size="33" stroke="#000" stroke-width="0.5" textLength="71.36" lengthAdjust="spacingAndGlyphs" class="xl">2012</text>
<text transform="translate(3324.8,1270.2) rotate(-90)" font-size="33" stroke="#000" stroke-width="0.5" textLength="71.36" lengthAdjust="spacingAndGlyphs" class="xl">2013</text>
<text transform="translate(3437.3,1270.2) rotate(-90)" font-size="33" stroke="#000" stroke-width="0.5" textLength="71.36" lengthAdjust="spacingAndGlyphs" class="xl">2014</text>
<text transform="translate(3549.8,1270.2) rotate(-90)" font-size="33" stroke="#000" stroke-width="0.5" textLength="71.36" lengthAdjust="spacingAndGlyphs" class="xl">2015</text>
<text transform="translate(3662.3,1270.2) rotate(-90)" font-size="33" stroke="#000" stroke-width="0.5" textLength="71.36" lengthAdjust="spacingAndGlyphs" class="xl">2016</text>
<text transform="translate(3774.8,1270.2) rotate(-90)" font-size="33" stroke="#000" stroke-width="0.5" textLength="71.36" lengthAdjust="spacingAndGlyphs" class="xl">2017</text>
</g>
</svg>
</body></html>
